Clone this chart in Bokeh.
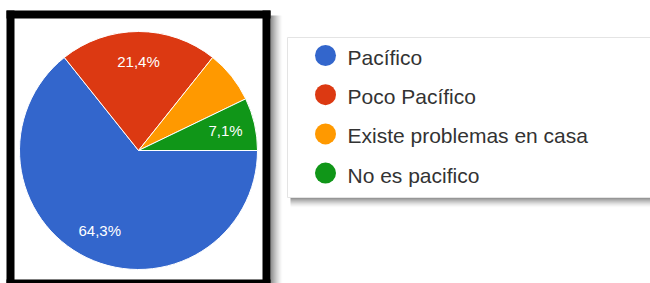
import numpy as np
from bokeh.plotting import figure
from bokeh.models import Range1d, ColumnDataSource
from bokeh.embed import file_html
from bokeh.resources import INLINE
from bokeh.core.properties import value

# ---- data ----
categories = ["Pacífico", "Poco Pacífico", "Existe problemas en casa", "No es pacifico"]
counts = [9, 3, 1, 1]
slice_labels = ["64,3%", "21,4%", "", "7,1%"]
colors = ["#3366cc", "#dc3912", "#ff9900", "#109618"]

# ---- layout (page pixel coordinates, y measured downward) ----
W, H = 650, 283
p = figure(width=W, height=H, output_backend="svg", toolbar_location=None,
           x_range=Range1d(0, W), y_range=Range1d(-H, 0),
           min_border=0, x_axis_location=None, y_axis_location=None)
p.grid.visible = False
p.outline_line_color = None
p.background_fill_color = "white"
p.border_fill_color = "white"

# black frame shadow (right side)
for i in range(12):
    p.quad(left=270 + i, right=271 + i, top=-15, bottom=-300,
           fill_color="black", fill_alpha=0.5 * (1 - i / 12) ** 1.5, line_color=None)
# black frame
box_l, box_r, box_t, box_b, th = 6, 270, 10, 287, 8
p.quad(left=[box_l, box_l, box_r - th, box_l], right=[box_r, box_l + th, box_r, box_r],
       top=[-box_t, -box_t, -box_t, -(box_b - th)],
       bottom=[-(box_t + th), -box_b, -box_b, -box_b],
       fill_color="black", line_color=None)

# pie
cx, cy, r = 138, -150, 119
total = float(sum(counts))
cum = np.concatenate([[0], np.cumsum(counts)]) / total * 2 * np.pi
start = -cum[1:]
end = -cum[:-1]
mid = -(cum[:-1] + cum[1:]) / 2
src = ColumnDataSource(dict(start=start, end=end, color=colors,
                            lx=cx + 0.75 * r * np.cos(mid),
                            ly=cy + 0.75 * r * np.sin(mid),
                            lab=slice_labels))
p.wedge(x=cx, y=cy, radius=r, start_angle="start", end_angle="end",
        fill_color="color", line_color="white", line_width=1, source=src)
p.text(x="lx", y="ly", text="lab", source=src, text_color="white",
       text_font=value("Liberation Sans"), text_font_size="15px",
       text_align="center", text_baseline="middle")

# legend panel
lg_l, lg_t, lg_b = 287, 37, 197
for i in range(10):
    p.quad(left=lg_l + 3, right=660, top=-(lg_b + i), bottom=-(lg_b + i + 1),
           fill_color="black", fill_alpha=0.5 * (1 - i / 10) ** 1.6, line_color=None)
p.quad(left=lg_l, right=660, top=-lg_t, bottom=-lg_b,
       fill_color="white", line_color="#e4e4e4", line_width=1)

# legend items
ly0, dy = 55, 39.2
leg_y = [-(ly0 + i * dy) for i in range(len(categories))]
lsrc = ColumnDataSource(dict(y=leg_y, ty=[v - 2 for v in leg_y],
                             name=categories, color=colors))
p.scatter(x=325, y="y", size=21, marker="circle", fill_color="color",
          line_color=None, source=lsrc)
p.text(x=347, y="ty", text="name", source=lsrc, text_color="#333333",
       text_font=value("Liberation Sans"), text_font_size="21px",
       text_align="left", text_baseline="middle")

open("out.html", "w").write(file_html(p, INLINE))
